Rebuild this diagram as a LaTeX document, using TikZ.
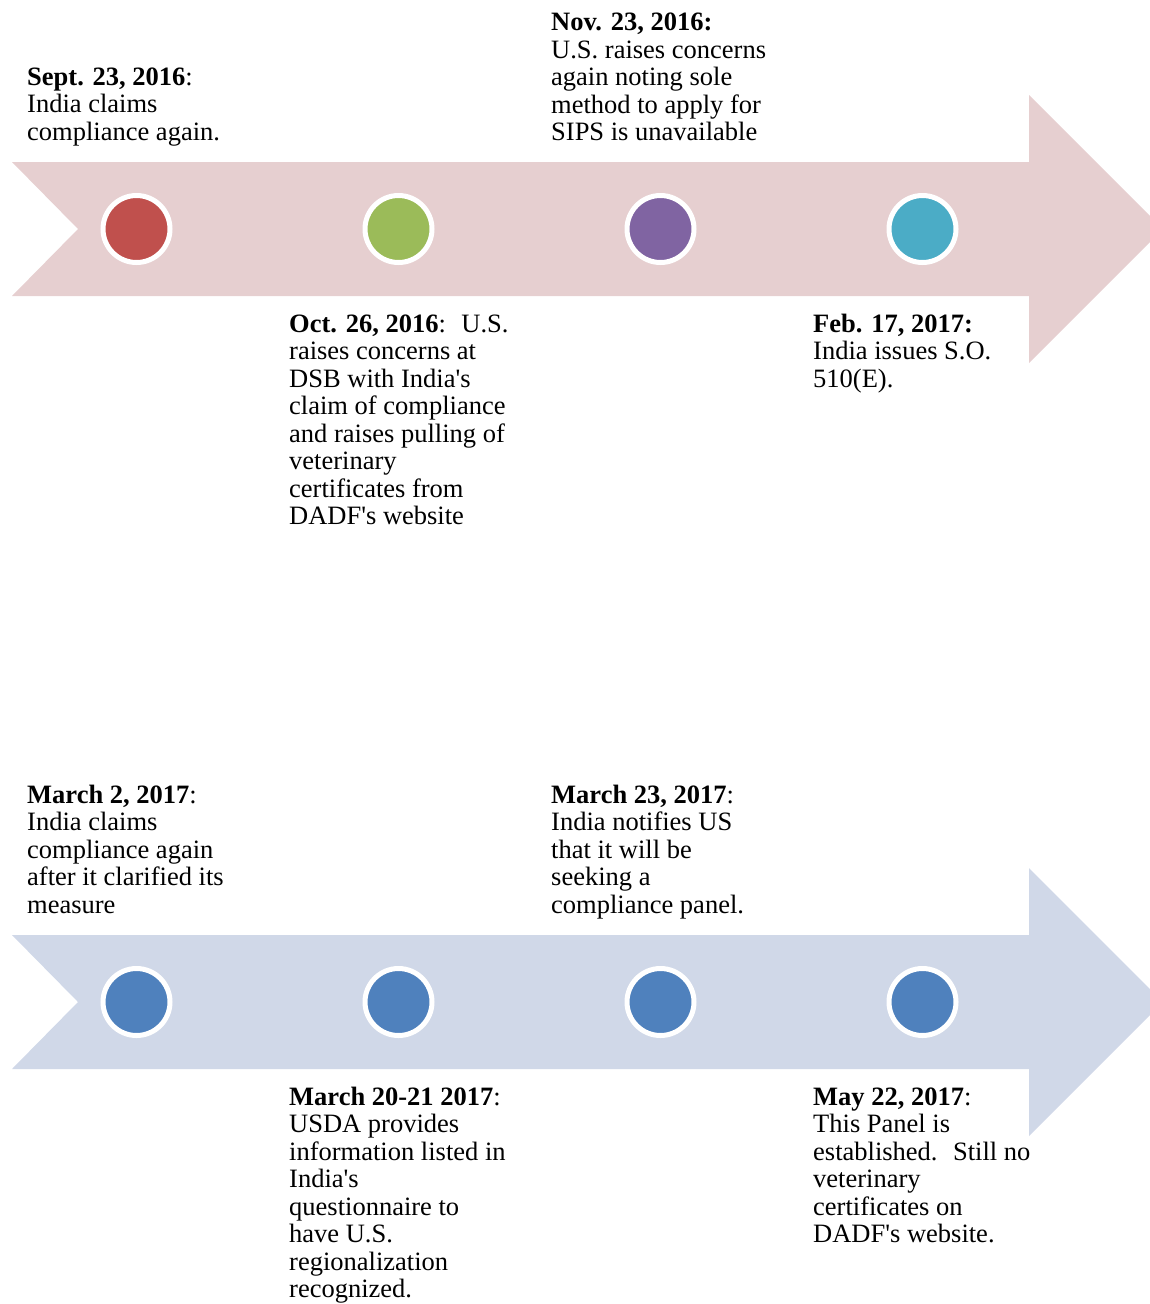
\documentclass[tikz,border=0pt]{standalone}
\usepackage{fontspec}
\setmainfont{Liberation Serif}
\newcommand{\myap}{\textquotesingle}
\definecolor{pinkarrow}{RGB}{230,207,208}
\definecolor{bluearrow}{RGB}{208,216,232}
\definecolor{cred}{RGB}{192,80,77}
\definecolor{cgreen}{RGB}{155,187,89}
\definecolor{cpurple}{RGB}{128,100,162}
\definecolor{cteal}{RGB}{75,172,198}
\definecolor{cblue}{RGB}{79,129,189}
\tikzset{
  dot/.style={circle, draw=white, line width=5pt, minimum size=67pt, inner sep=0pt},
  evtext/.style={anchor=north west, inner sep=0pt, align=left,
    font={\fontsize{26.5}{27.5}\selectfont}},
}
% first baseline minus strut height (0.7*27.5 = 19.25)
\begin{document}
\begin{tikzpicture}[x=1pt,y=-1pt]
\useasboundingbox (0,0) rectangle (1150,1304);
\begin{scope}
\clip (0,0) rectangle (1150,1304);
% first arrow
\fill[pinkarrow] (12,162) -- (1029,162) -- (1029,95) -- (1163,229) -- (1029,363)
  -- (1029,296) -- (12,296) -- (78,229) -- cycle;
% second arrow
\fill[bluearrow] (12,935) -- (1029,935) -- (1029,868) -- (1163,1002) -- (1029,1136)
  -- (1029,1069) -- (12,1069) -- (78,1002) -- cycle;
\end{scope}
% circles
\node[dot, fill=cred]    (c1) at (136.5,229) {};
\node[dot, fill=cgreen]  (c2) at (398.5,229) {};
\node[dot, fill=cpurple] (c3) at (660.5,229) {};
\node[dot, fill=cteal]   (c4) at (922.5,229) {};
\node[dot, fill=cblue]   (c5) at (136.5,1002) {};
\node[dot, fill=cblue]   (c6) at (398.5,1002) {};
\node[dot, fill=cblue]   (c7) at (660.5,1002) {};
\node[dot, fill=cblue]   (c8) at (922.5,1002) {};
% texts
\node[evtext] (t1) at (27,65.75) {\strut\textbf{Sept. 23, 2016}:\\India claims\\compliance again.};
\node[evtext] (t2) at (289,312.75) {\strut\textbf{Oct. 26, 2016}:~ U.S.\\raises concerns at\\DSB with India\myap s\\claim of compliance\\and raises pulling of\\veterinary\\certificates from\\DADF\myap s website};
\node[evtext] (t3) at (551,11.25) {\strut\textbf{Nov. 23, 2016:}\\U.S. raises concerns\\again noting sole\\method to apply for\\SIPS is unavailable};
\node[evtext] (t4) at (813,312.75) {\strut\textbf{Feb. 17, 2017:}\\India issues S.O.\\510(E).};
\node[evtext] (t5) at (27,783.75) {\strut\textbf{March 2, 2017}:\\India claims\\compliance again\\after it clarified its\\measure};
\node[evtext] (t6) at (289,1085.75) {\strut\textbf{March 20-21 2017}:\\USDA provides\\information listed in\\India\myap s\\questionnaire to\\have U.S.\\regionalization\\recognized.};
\node[evtext] (t7) at (551,783.75) {\strut\textbf{March 23, 2017}:\\India notifies US\\that it will be\\seeking a\\compliance panel.};
\node[evtext] (t8) at (813,1085.75) {\strut\textbf{May 22, 2017}:\\This Panel is\\established.~ Still no\\veterinary\\certificates on\\DADF\myap s website.};
\end{tikzpicture}
\end{document}
